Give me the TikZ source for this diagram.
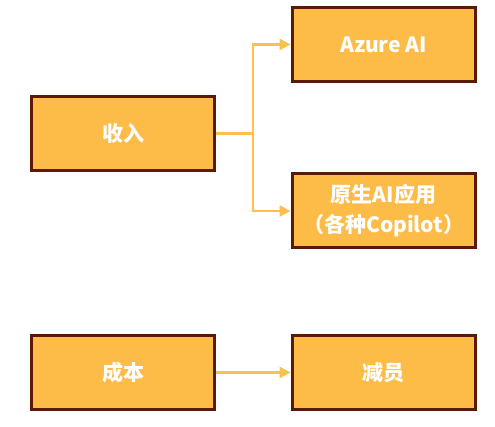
\documentclass[tikz,border=0pt]{standalone}
\usepackage{fontspec}
\usepackage{xcolor}
\usepackage{tikz}
\usetikzlibrary{positioning,arrows.meta}
\newfontfamily\cjkbold{Noto Sans CJK SC Black}
\definecolor{boxfill}{RGB}{253,187,72}
\definecolor{boxline}{RGB}{92,26,5}
\definecolor{linkcol}{RGB}{255,190,77}

\begin{document}
\begin{tikzpicture}[
  x=1pt,y=1pt,
  topic/.style={rectangle,draw=boxline,fill=boxfill,line width=3pt,
                minimum width=183pt,minimum height=74pt,inner sep=2pt,
                font=\cjkbold\fontsize{21}{30}\selectfont,text=white,align=center},
  link/.style ={linkcol,line width=2.6pt},
  >={Triangle[length=11pt,width=11pt]}
]
\useasboundingbox (0,0) rectangle (495,426);

\node[topic] (income) at (123,292.5) {收入};
\node[topic] (azure)  at (383.5,381.5) {Azure AI};
\node[topic] (native) at (383.5,215) {原生AI应用\\（各种Copilot）};
\node[topic] (cost)   at (123,53.5) {成本};
\node[topic] (layoff) at (383.5,53.5) {减员};

\coordinate (fork) at (253,292.5);

\draw[link] (income.east) -- (fork);
\draw[link,->] (fork) |- (azure.west);
\draw[link,->] (fork) |- (native.west);
\draw[link,->] (cost.east) -- (layoff.west);
\end{tikzpicture}
\end{document}
